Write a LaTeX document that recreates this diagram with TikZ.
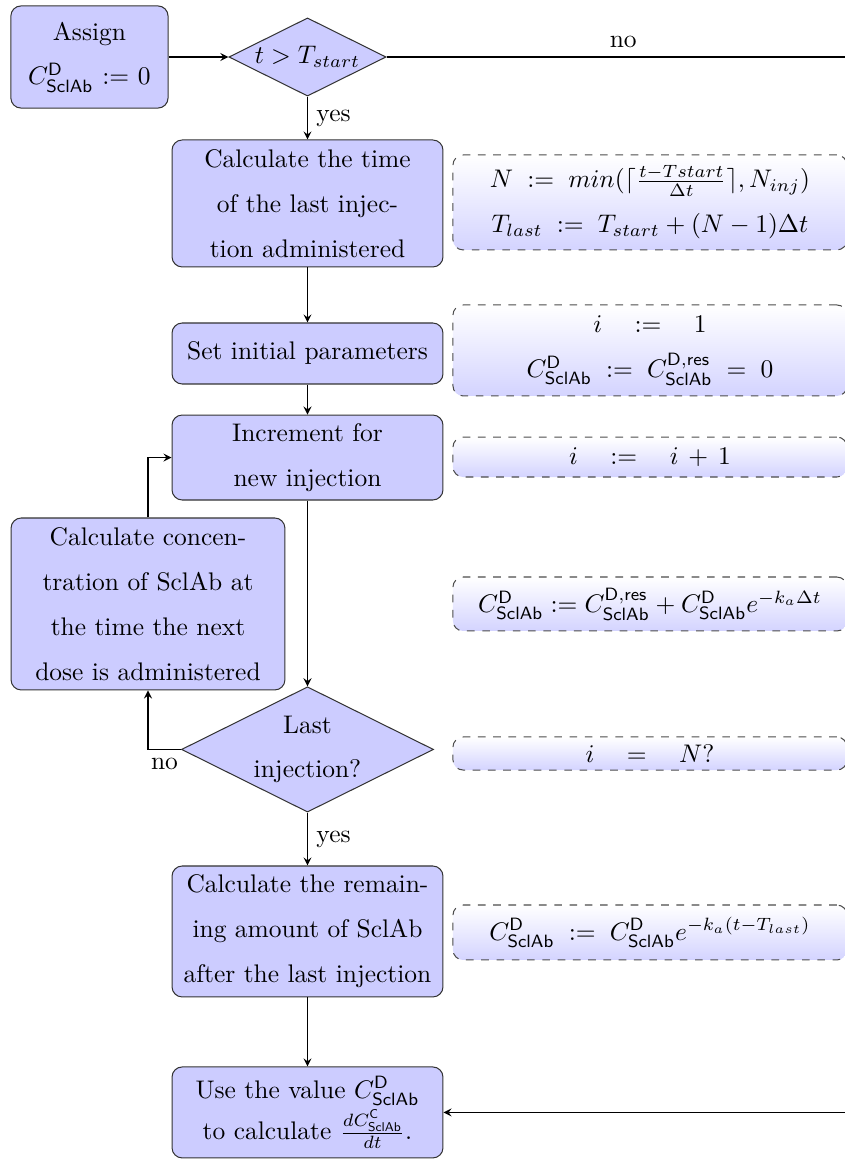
\documentclass[tikz,border=0pt]{standalone}
\usetikzlibrary{shapes.geometric}
\newcommand{\Cscl}[1]{C^{\mathsf{#1}}_{\mathsf{SclAb}}}

\begin{document}
	\begin{tikzpicture}[
		process/.style={draw=black!80, fill=blue!20, rounded corners, align=center, inner sep=2pt, text width=3.6cm, minimum width=3.74cm, font=\linespread{1.47}\selectfont},
		decision/.style={draw=black!80, fill=blue!20, diamond, shape aspect=2, inner sep=0pt, align=center, font=\linespread{1.47}\selectfont},
		note/.style={draw=black!70, dashed, rounded corners, top color=white, bottom color=blue!17, align=center, inner sep=2pt, text width=5.3cm, minimum width=5.44cm, font=\linespread{1.47}\selectfont},
		flow/.style={-stealth}]
		
		\useasboundingbox (0,0) rectangle (11.665,-16);
		
		\coordinate (far_top) at (11.87,-0.787);
		
		% Main column
		\node[process, text width=2.03cm, minimum width=2.17cm, minimum height=1.41cm] (assign) at (1.235,-0.787) {Assign\\ $\Cscl{D} := 0$};
		\node[decision, minimum width=2.17cm, minimum height=1.08cm] (start_test) at (4.245,-0.787) {$t > T_{start}$};
		\node[process, minimum height=1.753cm] (last_time) at (4.245,-2.809) {Calculate the time\\ of the last injec-\\ tion administered};
		\node[process, minimum height=0.842cm] (init) at (4.245,-4.880) {Set initial parameters};
		\node[process, minimum height=1.173cm] (incr) at (4.245,-6.316) {Increment for\\ new injection};
		\node[process, text width=3.64cm, minimum width=3.78cm, minimum height=2.374cm] (next_conc) at (2.043,-8.338) {Calculate concen-\\ tration of SclAb at\\ the time the next\\ dose is administered};
		\node[decision, text width=1.5cm, minimum width=3.48cm, minimum height=1.73cm] (last_test) at (4.245,-10.346) {Last\\ injection?};
		\node[process, minimum height=1.256cm, font=\linespread{1.36}\selectfont] (use_value) at (4.245,-15.357) {Use the value $\Cscl{D}$\\ to calculate \mbox{$\frac{dC^{\mathsf{C}}_{\mathsf{SclAb}}}{dt}$.}};
		\node[process, minimum height=1.808cm] (remain) at (4.245,-12.859) {Calculate the remain-\\ ing amount of SclAb\\ after the last injection};
		
		% Formulas
		\node[note, minimum height=1.311cm] (n_last) at (8.973,-2.795) {\mbox{$N \;:=\; min(\lceil\frac{t-Tstart}{\Delta t}\rceil, N_{inj})$}\\ \mbox{$T_{last} \;:=\; T_{start} + (N-1)\Delta t$}};
		\node[note, minimum height=1.256cm] (n_init) at (8.973,-4.838) {\mbox{$i \quad := \quad 1$}\\ \mbox{$\Cscl{D} \;:=\; \Cscl{D,res} \;=\; 0$}};
		\node[note, minimum height=0.552cm] (n_incr) at (8.973,-6.309) {\mbox{$i \quad := \quad i \,+\, 1$}};
		\node[note, minimum height=0.745cm] (n_conc) at (8.973,-8.338) {\mbox{$\Cscl{D} := \Cscl{D,res} + \Cscl{D}e^{-k_a\Delta t}$}};
		\node[note, minimum height=0.456cm] (n_test) at (8.973,-10.402) {\mbox{$i \quad = \quad N?$}};
		\node[note, minimum height=0.759cm] (n_remain) at (8.973,-12.873) {\mbox{$\Cscl{D} \;:=\; \Cscl{D}e^{-k_a(t-T_{last})}$}};
		
		% Connectors
		\draw[flow] (assign) -- (start_test);
		\draw[flow] (start_test) -- node[right] {yes} (last_time);
		\draw[flow] (start_test.east) -- node[above] {no} (far_top) |- (use_value.east);
		\draw[flow] (last_time) -- (init);
		\draw[flow] (init) -- (incr);
		\draw[flow] (incr) -- (last_test);
		\draw[flow] (last_test.west) -| node[below, pos=0.25] {no} (next_conc.south);
		\draw[flow] (next_conc.north) |- (incr.west);
		\draw[flow] (last_test) -- node[right] {yes} (remain);
		\draw[flow] (remain) -- (use_value);
		
	\end{tikzpicture}
\end{document}
